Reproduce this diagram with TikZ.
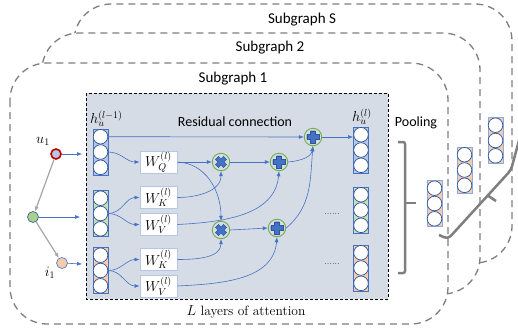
\documentclass[tikz,border=0pt]{standalone}
\usepackage{fontspec}
\setsansfont{Carlito}
\usetikzlibrary{arrows.meta,calc}
\definecolor{sgray}{HTML}{7F7F7F}
\definecolor{bgbox}{HTML}{D6DCE5}
\definecolor{vblue}{HTML}{B4C7E7}
\definecolor{vgreen}{HTML}{C5E0B4}
\definecolor{ngreen}{HTML}{A9D18E}
\definecolor{vorange}{HTML}{F8CBAD}
\definecolor{dblue}{HTML}{2F5597}
\definecolor{mblue}{HTML}{4472C4}
\definecolor{pblue}{HTML}{8FAADC}
\definecolor{ogreen}{HTML}{70AD47}
\definecolor{dred}{HTML}{C00000}
\definecolor{lgray}{HTML}{A6A6A6}
\tikzset{
 sub/.style={draw=sgray, line width=1.3pt, dash pattern=on 7pt off 5pt, fill=white, rounded corners=37pt},
 vrect/.style={draw=mblue, line width=0.9pt, minimum width=15pt, minimum height=46pt, inner sep=0pt},
 vcirc/.style={circle, draw=dblue, fill=white, line width=0.7pt, minimum size=14.6pt, inner sep=0pt},
 wbox/.style={draw=vblue, fill=white, line width=1pt, minimum width=37pt, minimum height=22pt, inner sep=0pt, font=\fontsize{14}{16}\selectfont},
 opc/.style={circle, draw=ogreen, line width=0.9pt, minimum size=17.5pt, inner sep=0pt, fill=bgbox},
 arr/.style={draw=mblue, line width=0.6pt, -{Latex[length=5pt,width=4pt]}},
 garr/.style={draw=lgray, line width=1.2pt, -{Latex[length=5pt,width=4pt]}},
 lbl/.style={font=\sffamily\fontsize{14}{16}\selectfont, inner sep=0pt},
 sublbl/.style={font=\sffamily\fontsize{15}{17}\selectfont, inner sep=0pt},
 mlbl/.style={inner sep=0pt, font=\fontsize{14}{16}\selectfont},
 brk/.style={draw=sgray, line width=2.5pt, rounded corners=2pt},
 crosssym/.pic={\fill[mblue, draw=dblue, line width=0.4pt] (-2.4,-6.3) -- (2.4,-6.3) -- (2.4,-2.4) -- (6.3,-2.4) -- (6.3,2.4) -- (2.4,2.4) -- (2.4,6.3) -- (-2.4,6.3) -- (-2.4,2.4) -- (-6.3,2.4) -- (-6.3,-2.4) -- (-2.4,-2.4) -- cycle;},
}
\newcommand{\vstack}[6]{% name, x, y, fill, rect colour, rect width
 \node[vrect, fill=#4, draw=#5, line width=#6] (#1) at (#2,#3) {};
 \node[vcirc] (#1-1) at (#2,#3-15.3) {};
 \node[vcirc] (#1-2) at (#2,#3) {};
 \node[vcirc] (#1-3) at (#2,#3+15.3) {};
}
\begin{document}
\begin{tikzpicture}[x=1pt,y=-1pt]
\useasboundingbox (0,0) rectangle (518,335);
% subgraph frames
\path[sub] (74,4) rectangle (512,263);
\path[sub] (42,33) rectangle (480,294);
\path[sub] (10,63) rectangle (448,324);
\node[sublbl] (tS) at (302,20) {Subgraph S};
\node[sublbl] (t2) at (270,48) {Subgraph 2};
\node[sublbl] (t1) at (233,79) {Subgraph 1};
% attention box
\path[draw=black, fill=bgbox, line width=0.8pt, dash pattern=on 3pt off 2pt] (86,93) rectangle (388,299);
\node[lbl] (res) at (235,122) {Residual connection};
\node[font=\fontsize{13.5}{15}\selectfont, inner sep=0pt] (lay) at (246,312) {$L$ layers of attention};
% input vectors
\vstack{hl}{100.5}{152}{vblue}{mblue}{0.9pt}
\vstack{hg}{100.5}{213.5}{vgreen}{mblue}{0.9pt}
\vstack{ho}{100.5}{270.5}{vorange}{mblue}{0.9pt}
\node[mlbl, anchor=south west] (hll) at (90,127) {$h_u^{(l-1)}$};
% output vectors
\vstack{rb}{361}{150}{vblue}{mblue}{0.9pt}
\vstack{rg}{361}{210}{vgreen}{mblue}{0.9pt}
\vstack{ro}{361}{268}{vorange}{mblue}{0.9pt}
\node[mlbl, anchor=south west] (hrl) at (352,125) {$h_u^{(l)}$};
\node[inner sep=0pt, font=\fontsize{9}{10}\selectfont] (d1) at (332,214) {......};
\node[inner sep=0pt, font=\fontsize{9}{10}\selectfont] (d2) at (332,264) {......};
% weight boxes
\node[wbox] (wq) at (158.5,162) {$W_Q^{(l)}$};
\node[wbox] (wk1) at (158.5,197.5) {$W_K^{(l)}$};
\node[wbox] (wv1) at (158.5,224.5) {$W_V^{(l)}$};
\node[wbox] (wk2) at (158.5,259.5) {$W_K^{(l)}$};
\node[wbox] (wv2) at (158.5,286) {$W_V^{(l)}$};
% operators
\node[opc] (m1) at (221,162) {};
\node[opc] (m2) at (221,230) {};
\node[opc] (a1) at (279,162) {};
\node[opc] (a2) at (277,228) {};
\node[opc] (at) at (313,137) {};
\pic[rotate=45, scale=0.9] at (m1) {crosssym};
\pic[rotate=45, scale=0.9] at (m2) {crosssym};
\pic at (a1) {crosssym};
\pic at (a2) {crosssym};
\pic at (at) {crosssym};
% connections
\draw[arr] (hl-1.east) -- (at.west);
\draw[arr] (at.east) -- (at.east -| rb.west);
\draw[arr] (hl-2.east) to[out=0,in=180] (wq.west);
\draw[arr] (hg-2.east) to[out=0,in=180] (wk1.west);
\draw[arr] (hg-2.east) to[out=0,in=180] (wv1.west);
\draw[arr] (ho-2.east) to[out=0,in=180] (wk2.west);
\draw[arr] (ho-2.east) to[out=0,in=180] (wv2.west);
\draw[arr] (wq.east) -- (m1.west);
\draw[arr] (wq.east) .. controls (205,163) and (221,190) .. (m2.north);
\draw[arr] (wk1.east) to[out=0,in=-90] (m1.south);
\draw[arr] (wv1.east) to[out=3,in=-95] (a1.south);
\draw[arr] (m1.east) -- (a1.west);
\draw[arr] (a1.east) to[out=5,in=-100] (at.south);
\draw[arr] (m2.east) -- (a2.west);
\draw[arr] (wk2.east) to[out=0,in=-90] (m2.south);
\draw[arr] (wv2.east) to[out=3,in=-95] (a2.south);
\draw[arr] (a2.east) to[out=40,in=-95] (at.south);
% user-item graph
\node[circle, draw=dred, line width=1.6pt, fill=vblue, minimum size=10pt, inner sep=0pt] (u1) at (56,154) {};
\node[circle, draw=dblue, line width=0.6pt, fill=ngreen, minimum size=11pt, inner sep=0pt] (g1) at (33,217) {};
\node[circle, draw=mblue, line width=0.6pt, fill=vorange, minimum size=11pt, inner sep=0pt] (i1) at (62,263) {};
\node[mlbl] (u1l) at (43,141) {$u_1$};
\node[mlbl] (i1l) at (50,273) {$i_1$};
\coordinate (ue) at (82,154);
\coordinate (ge) at (80,217);
\coordinate (ie) at (82,264);
\draw[garr] (u1) -- (g1);
\draw[garr] (g1) -- (i1);
\draw[arr] (u1) -- (ue);
\draw[arr] (g1) -- (ge);
\draw[arr] (i1) -- (ie);
% pooling
\node[lbl] (pool) at (416,123) {Pooling};
\draw[brk] (398,142) -- (405,142) -- (405,273) -- (398,273);
\draw[brk] (405,203) -- (416,203);
\vstack{p1}{434.5}{203.5}{vorange}{pblue}{0.9pt}
\vstack{p2}{464.5}{170}{vorange}{pblue}{0.9pt}
\vstack{p3}{495.5}{140.5}{vorange}{pblue}{0.9pt}
\draw[brk, rounded corners=4pt] (439,235) -- (448,239) -- (511,170) -- (521,133);
\draw[brk] (487,195) -- (496,201);
\end{tikzpicture}
\end{document}
